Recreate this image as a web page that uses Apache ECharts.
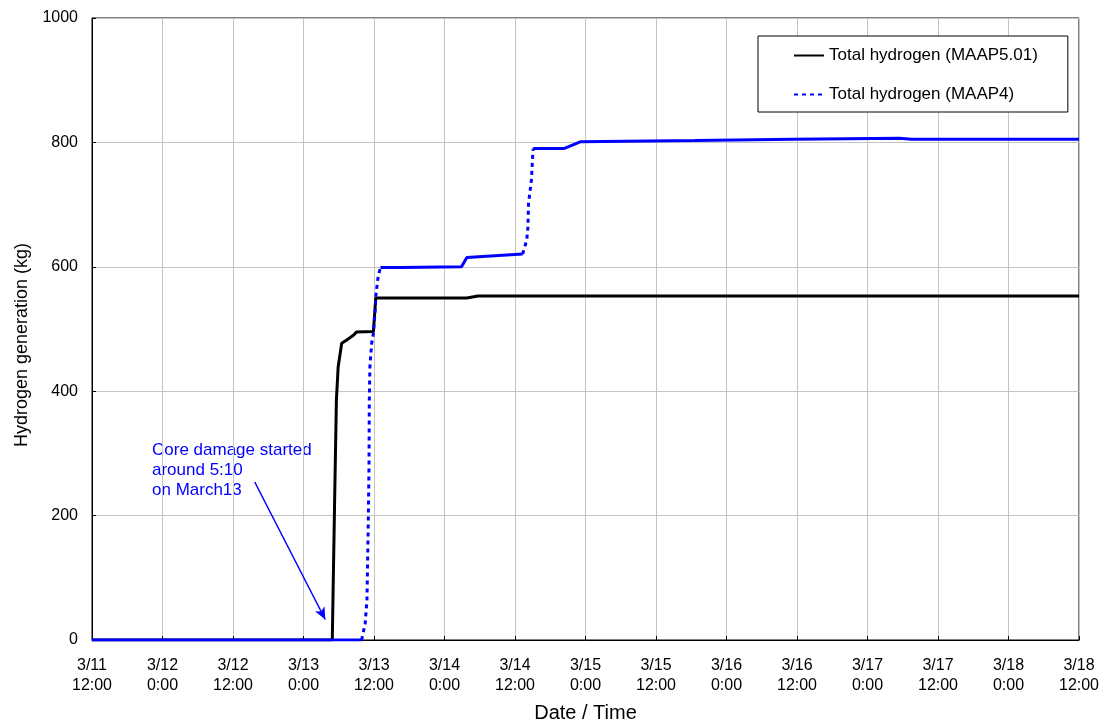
<!DOCTYPE html>
<html>
<head>
<meta charset="utf-8">
<script src="https://cdn.jsdelivr.net/npm/echarts@6/dist/echarts.min.js"></script>
<style>
  html, body { margin: 0; padding: 0; background: #fff; }
  #chart { width: 1103px; height: 721px; }
</style>
</head>
<body>
<div id="chart"></div>
<script>
// Hours elapsed since 3/11 12:00; tick every 12 hours
const tickLabels = [
  '3/11\n12:00', '3/12\n0:00', '3/12\n12:00', '3/13\n0:00', '3/13\n12:00',
  '3/14\n0:00', '3/14\n12:00', '3/15\n0:00', '3/15\n12:00', '3/16\n0:00',
  '3/16\n12:00', '3/17\n0:00', '3/17\n12:00', '3/18\n0:00', '3/18\n12:00'
];

// Total hydrogen (MAAP5.01): [hours, kg]
const maap501 = [
  [0, 0], [40.9, 0], [41.3, 225], [41.6, 386], [41.9, 439], [42.5, 477],
  [43.3, 482], [44.5, 490], [45.0, 495], [47.9, 496], [48.2, 497],
  [48.3, 550], [63.8, 550], [65.7, 553], [168, 553]
];

// Total hydrogen (MAAP4): [hours, kg]
const maap4 = [
  [0, 0], [45.9, 0], [46.5, 27], [46.8, 64], [47.0, 172], [47.15, 279],
  [47.2, 386], [47.3, 439], [47.6, 477], [47.9, 493], [48.2, 530],
  [48.3, 552], [48.7, 584], [49.1, 599], [52.2, 599], [52.4, 601],
  [52.6, 599], [62.9, 600], [63.8, 615], [67.2, 617], [67.5, 620],
  [73.3, 620.5], [74.0, 643], [74.2, 664], [74.3, 702], [74.8, 740],
  [75.0, 777], [75.1, 790], [80.3, 790], [83.1, 801], [102.6, 803],
  [119.4, 805], [137.5, 806.5], [139.5, 805], [168, 805]
];

// Annotation arrow, in data units: [hours, kg]
const arrowFrom = [27.7, 254];
const arrowTo = [39.7, 33];

const nameA = 'Total hydrogen (MAAP5.01)';
const nameB = 'Total hydrogen (MAAP4)';

// Split a curve into steep (dashed) and flat (solid) runs, separated by gaps
function splitRuns(points, steep) {
  const out = [];
  let open = false;
  for (let i = 0; i < points.length - 1; i++) {
    const a = points[i], b = points[i + 1];
    const isSteep = (b[1] - a[1]) / (b[0] - a[0]) > 30;
    if (isSteep === steep) {
      if (!open) { out.push(a); open = true; }
      out.push(b);
    } else if (open) {
      out.push([b[0], '-']);
      open = false;
    }
  }
  return out;
}

const chart = echarts.init(document.getElementById('chart'), null, { renderer: 'canvas' });
const font = 'Arial, "Liberation Sans", sans-serif';

chart.setOption({
  animation: false,
  backgroundColor: '#fff',
  grid: {
    left: 92, right: 24, top: 18, bottom: 81,
    outerBoundsMode: 'none',
    show: true, borderColor: '#000', borderWidth: 1, backgroundColor: 'transparent'
  },
  legend: {
    orient: 'vertical',
    left: 758, top: 36,
    padding: [11, 30, 9, 35],
    itemGap: 22,
    itemWidth: 30, itemHeight: 14,
    borderColor: '#000', borderWidth: 1,
    backgroundColor: '#fff',
    itemStyle: { opacity: 0 },
    data: [nameA, nameB],
    textStyle: { fontFamily: font, fontSize: 17, color: '#000' }
  },
  xAxis: {
    type: 'value', min: 0, max: 168, interval: 12,
    name: 'Date / Time', nameLocation: 'middle', nameGap: 63,
    nameTextStyle: { fontFamily: font, fontSize: 20, color: '#000' },
    axisLine: { lineStyle: { color: '#000', width: 1 } },
    axisTick: { show: true, inside: true, length: 4, lineStyle: { color: '#000' } },
    axisLabel: {
      fontFamily: font, fontSize: 16, color: '#000', lineHeight: 20, margin: 16,
      formatter: v => tickLabels[Math.round(v / 12)]
    },
    splitLine: { show: true, lineStyle: { color: '#c4c4c4', width: 1 } }
  },
  yAxis: {
    type: 'value', min: 0, max: 1000, interval: 200,
    name: 'Hydrogen generation (kg)', nameLocation: 'middle', nameGap: 55,
    nameTextStyle: { fontFamily: font, fontSize: 18, color: '#000', padding: [0, 32, 0, 0] },
    axisLine: { show: true, lineStyle: { color: '#000', width: 1 } },
    axisTick: { show: true, inside: true, length: 4, lineStyle: { color: '#000' } },
    axisLabel: { fontFamily: font, fontSize: 16, color: '#000', margin: 14, formatter: v => String(v) },
    splitLine: { show: true, lineStyle: { color: '#c4c4c4', width: 1 } }
  },
  graphic: [{
    type: 'text', left: 152, top: 440, silent: true,
    style: {
      text: 'Core damage started\naround 5:10\non March13',
      font: '17px ' + font, fill: '#0000ff', lineHeight: 20
    }
  }],
  series: [
    {
      name: nameA, type: 'line', data: maap501, symbol: 'none', z: 2,
      lineStyle: { color: '#000', width: 3 }, itemStyle: { color: '#000' },
      markLine: {
        silent: true, symbol: ['none', 'arrow'], symbolSize: [8, 12],
        label: { show: false },
        lineStyle: { color: '#0000ff', width: 1.5, type: 'solid' },
        data: [[{ coord: arrowFrom }, { coord: arrowTo }]]
      }
    },
    {
      name: nameB, type: 'line', data: splitRuns(maap4, true), symbol: 'none', z: 3,
      connectNulls: false,
      lineStyle: { color: '#0000ff', width: 3, type: [4, 4] }, itemStyle: { color: '#0000ff' }
    },
    {
      name: nameB, type: 'line', data: splitRuns(maap4, false), symbol: 'none', z: 3,
      connectNulls: false,
      lineStyle: { color: '#0000ff', width: 3, type: 'solid' }, itemStyle: { color: '#0000ff' }
    }
  ]
});
</script>
</body>
</html>
